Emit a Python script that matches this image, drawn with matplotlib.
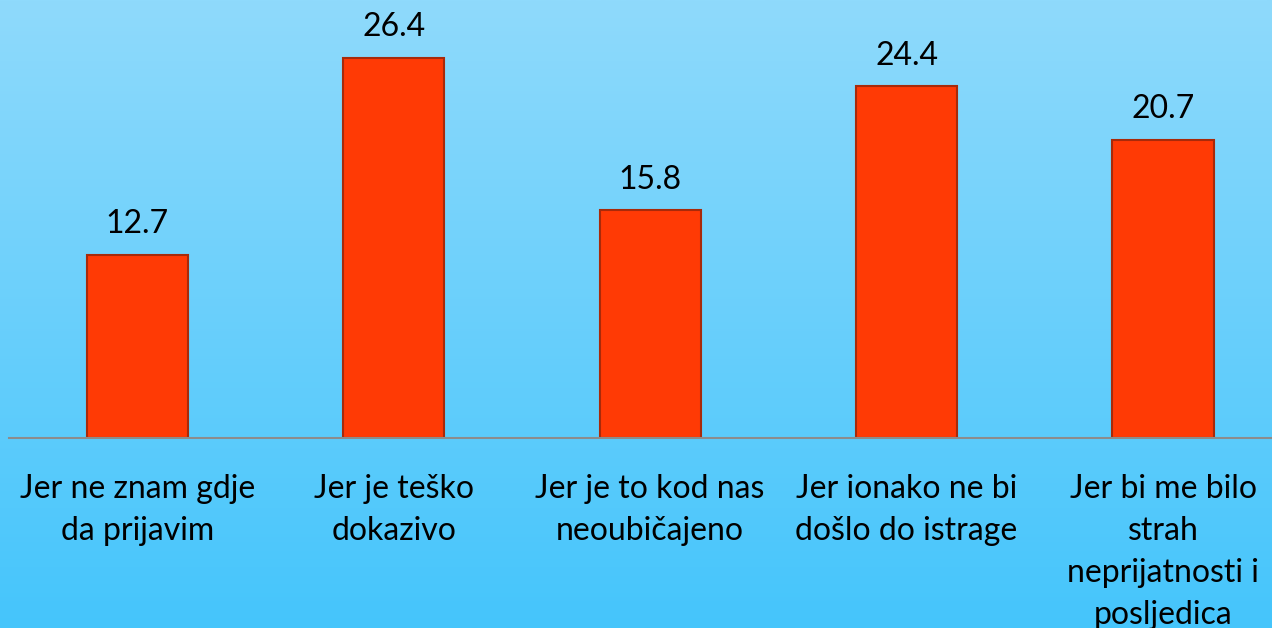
import matplotlib
matplotlib.use("Agg")
import matplotlib.pyplot as plt
import numpy as np
from matplotlib.colors import LinearSegmentedColormap

# podaci
categories = [
    "Jer ne znam gdje\nda prijavim",
    "Jer je teško\ndokazivo",
    "Jer je to kod nas\nneoubičajeno",
    "Jer ionako ne bi\ndošlo do istrage",
    "Jer bi me bilo\nstrah\nneprijatnosti i\nposljedica",
]
values = [12.7, 26.4, 15.8, 24.4, 20.7]

plt.rcParams['font.family'] = ['Lato', 'DejaVu Sans']

fig = plt.figure(figsize=(12.72, 6.28), dpi=100)

# pozadina - gradijent
bg = fig.add_axes([0, 0, 1, 1], zorder=0)
cmap = LinearSegmentedColormap.from_list("bg", ["#45c5fb", "#8fdafc"])
grad = np.linspace(0, 1, 256).reshape(-1, 1)
bg.imshow(grad, aspect="auto", cmap=cmap, origin="lower", extent=[0, 1, 0, 1])
bg.axis("off")

W, H = 1272, 628
ax = fig.add_axes([9 / W, (H - 438) / H, 1 - 9 / W, 438 / H], zorder=1)
ax.patch.set_alpha(0)

x = np.arange(len(values))
bars = ax.bar(x, values, width=0.394, color="#ff3a05", edgecolor="#a82a0a", linewidth=1.5)

for b, v in zip(bars, values):
    ax.text(b.get_x() + b.get_width() / 2, v + 1.1, f"{v}", ha="center", va="bottom",
            fontsize=23, color="black")

ax.set_xlim(-0.5, 4.425)
ax.set_ylim(0, 30.4)
ax.set_xticks(x)
ax.set_xticklabels(categories, fontsize=23, linespacing=1.5)
ax.tick_params(axis="x", length=0, pad=26)
ax.set_yticks([])
for s in ["top", "left", "right"]:
    ax.spines[s].set_visible(False)
ax.spines["bottom"].set_color("#8c8c8c")
ax.spines["bottom"].set_linewidth(1.5)

fig.savefig("out.png", dpi=100)
